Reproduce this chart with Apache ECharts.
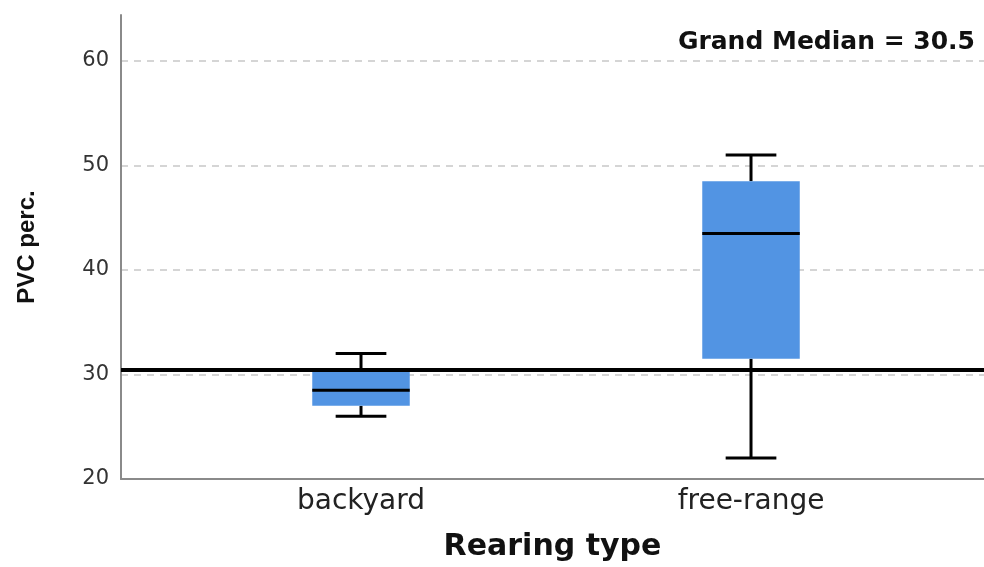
<!DOCTYPE html>
<html>
<head>
<meta charset="utf-8">
<script src="https://cdn.jsdelivr.net/npm/echarts@6/dist/echarts.min.js"></script>
<style>
  html, body { margin: 0; padding: 0; background: #fff; }
  #chart { width: 984px; height: 567px; }
</style>
</head>
<body>
<div id="chart"></div>
<script>
// ---- Data ----
const categories   = ['backyard', 'free-range'];
const whiskerLow   = [26, 22];
const quartile1    = [27, 31.5];
const medians      = [28.5, 43.5];
const quartile3    = [30.25, 48.5];
const whiskerHigh  = [32, 51];
const grandMedian  = 30.5;
const yTicks       = [20, 30, 40, 50, 60];

const boxData = categories.map((c, i) => [i, whiskerLow[i], quartile1[i], medians[i], quartile3[i], whiskerHigh[i]]);

const chart = echarts.init(document.getElementById('chart'));

chart.setOption({
  animation: false,
  backgroundColor: '#ffffff',
  title: {
    text: 'Grand Median = ' + grandMedian,
    right: 9,
    top: 30,
    padding: 0,
    textStyle: { fontFamily: 'DejaVu Sans', fontWeight: 'bold', fontSize: 25, color: '#111' }
  },
  grid: { left: 121, right: 0, top: 15, bottom: 86 },
  xAxis: {
    type: 'value',
    min: -0.6154,
    max: 1.5974,
    name: 'Rearing type',
    nameLocation: 'middle',
    nameGap: 53,
    nameTextStyle: { fontFamily: 'DejaVu Sans', fontWeight: 'bold', fontSize: 30, color: '#111' },
    axisLine: { show: true, onZero: false, lineStyle: { color: '#8a8a8a', width: 2 } },
    axisTick: { show: false },
    splitLine: { show: false },
    axisLabel: {
      customValues: categories.map((c, i) => i),
      formatter: v => categories[Math.round(v)],
      margin: 9,
      fontFamily: 'DejaVu Sans',
      fontSize: 28,
      color: '#222'
    }
  },
  yAxis: {
    type: 'value',
    min: yTicks[0],
    max: 64.4,
    interval: 10,
    name: 'PVC perc.',
    nameLocation: 'middle',
    nameGap: 82,
    nameTextStyle: { fontFamily: 'Liberation Sans', fontWeight: 'bold', fontSize: 24, color: '#111' },
    axisLine: { show: true, onZero: false, lineStyle: { color: '#8a8a8a', width: 2 } },
    axisTick: { show: false },
    axisLabel: {
      showMaxLabel: false,
      margin: 12,
      fontFamily: 'DejaVu Sans',
      fontSize: 21,
      color: '#333'
    },
    splitLine: {
      show: true,
      showMaxLine: false,
      lineStyle: { color: '#c8c8c8', width: 1.5, type: [7, 6] }
    }
  },
  series: [{
    type: 'custom',
    data: boxData,
    encode: { x: 0, y: [1, 2, 3, 4, 5] },
    renderItem: function (params, api) {
      const x = api.value(0);
      const pLow = api.coord([x, api.value(1)]);
      const pQ1 = api.coord([x, api.value(2)]);
      const pMed = api.coord([x, api.value(3)]);
      const pQ3 = api.coord([x, api.value(4)]);
      const pHigh = api.coord([x, api.value(5)]);
      const unit = api.size([1, 0])[0];
      const boxW = unit * 0.25;
      const capW = unit * 0.13;
      const cx = pMed[0];
      const ls = { stroke: '#000', lineWidth: 3 };
      return {
        type: 'group',
        children: [
          { type: 'line', shape: { x1: cx, y1: pQ3[1], x2: cx, y2: pHigh[1] }, style: ls },
          { type: 'line', shape: { x1: cx, y1: pQ1[1], x2: cx, y2: pLow[1] }, style: ls },
          { type: 'line', shape: { x1: cx - capW / 2, y1: pHigh[1], x2: cx + capW / 2, y2: pHigh[1] }, style: ls },
          { type: 'line', shape: { x1: cx - capW / 2, y1: pLow[1], x2: cx + capW / 2, y2: pLow[1] }, style: ls },
          { type: 'rect', shape: { x: cx - boxW / 2, y: pQ3[1], width: boxW, height: pQ1[1] - pQ3[1] }, style: { fill: '#5294e3' } },
          { type: 'line', shape: { x1: cx - boxW / 2, y1: pMed[1], x2: cx + boxW / 2, y2: pMed[1] }, style: ls }
        ]
      };
    },
    markLine: {
      silent: true,
      symbol: 'none',
      label: { show: false },
      lineStyle: { color: '#000', width: 4, type: 'solid' },
      data: [{ yAxis: grandMedian }]
    }
  }]
});
</script>
</body>
</html>
